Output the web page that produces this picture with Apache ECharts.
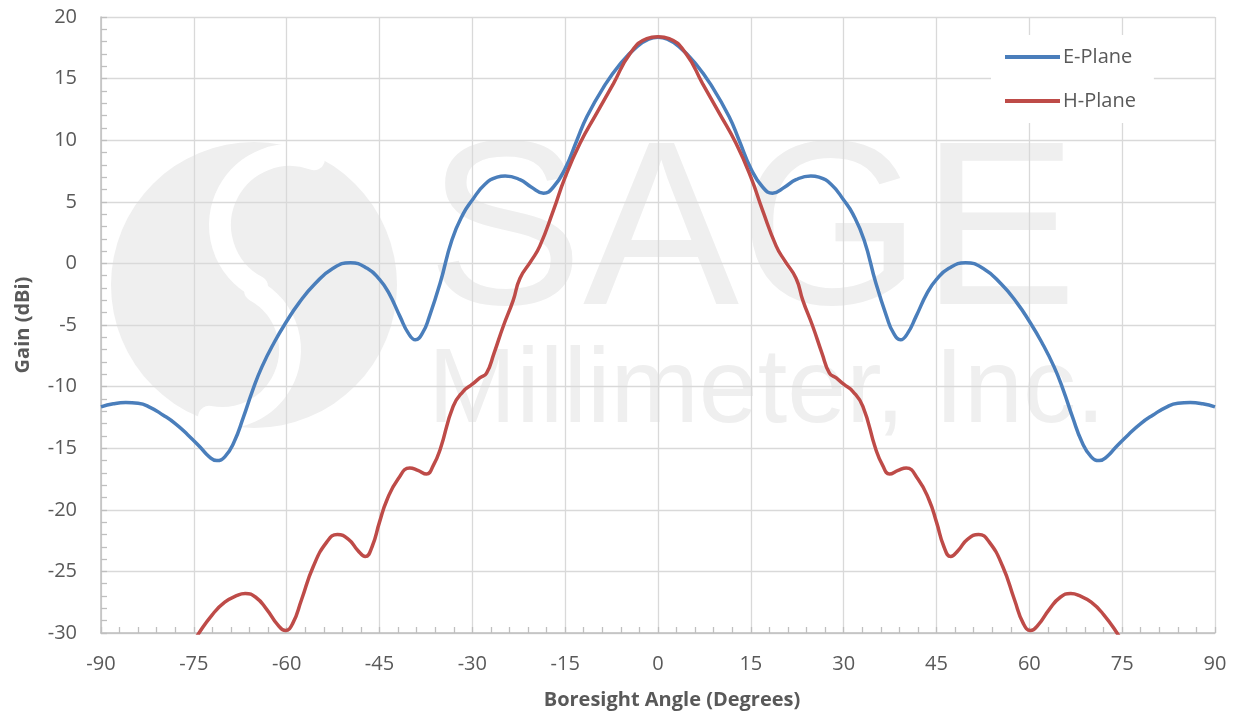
<!DOCTYPE html>
<html>
<head>
<meta charset="utf-8">
<script src="https://cdn.jsdelivr.net/npm/echarts@6/dist/echarts.min.js"></script>
<style>
html,body{margin:0;padding:0;background:#fff;}
#chart{width:1234px;height:717px;}
</style>
</head>
<body>
<div id="chart"></div>
<script>
// E-Plane
const eAngles = [-90,-88,-86,-84,-82,-80,-78,-76,-74,-72.5,-71.3,-70,-68.5,-67,-65.5,-64,-62,-60,-58,-55.5,-52.5,-49.7,-47,-45,-43.5,-41.7,-40.3,-39.2,-38,-37,-35.2,-33.3,-31.5,-30,-28,-26,-24.7,-22.3,-20.5,-18.5,-16.9,-15,-13.1,-11.5,-8.8,-6.1,-3.4,-1.5,0,
  1.5,3.4,6.1,8.8,11.5,13.1,15,16.9,18.5,20.5,22.3,24.7,26,28,30,31.5,33.3,35.2,37,38,39.2,40.3,41.7,43.5,45,47,49.7,52.5,55.5,58,60,62,64,65.5,67,68.5,70,71.3,72.5,74,76,78,80,82,84,86,88,90];
const eGain = [-11.65,-11.4,-11.3,-11.35,-11.7,-12.3,-13.0,-13.9,-14.9,-15.7,-16.0,-15.7,-14.5,-12.5,-10.3,-8.4,-6.4,-4.7,-3.2,-1.7,-0.4,0.05,-0.4,-1.3,-2.4,-4.3,-5.7,-6.2,-5.6,-4.4,-1.6,1.9,4.0,5.15,6.4,7.0,7.1,6.8,6.2,5.7,6.2,7.7,10.0,11.9,14.3,16.2,17.6,18.2,18.35,
  18.2,17.6,16.2,14.3,11.9,10.0,7.7,6.2,5.7,6.2,6.8,7.1,7.0,6.4,5.15,4.0,1.9,-1.6,-4.4,-5.6,-6.2,-5.7,-4.3,-2.4,-1.3,-0.4,0.05,-0.4,-1.7,-3.2,-4.7,-6.4,-8.4,-10.3,-12.5,-14.5,-15.7,-16.0,-15.7,-14.9,-13.9,-13.0,-12.3,-11.7,-11.35,-11.3,-11.4,-11.65];

// H-Plane
const hAngles = [-80,-77,-74.3,-72,-70,-68,-66.7,-65,-63.2,-61.5,-60.2,-59,-57.6,-55.7,-53.5,-51.8,-50,-48.5,-47.3,-46.2,-45,-43.8,-42,-40.1,-38.8,-37.4,-36.3,-35.2,-33.1,-31.5,-30,-28.8,-27.7,-26.5,-25,-23.4,-22.3,-20.5,-19.1,-16.9,-15,-12.6,-9.9,-7.2,-4.5,-1.8,0,
  1.8,4.5,7.2,9.9,12.6,15,16.9,19.1,20.5,22.3,23.4,25,26.5,27.7,28.8,30,31.5,33.1,35.2,36.3,37.4,38.8,40.1,42,43.8,45,46.2,47.3,48.5,50,51.8,53.5,55.7,57.6,59,60.2,61.5,63.2,65,66.7,68,70,72,74.3,77,80];
const hGain = [-34.5,-32.2,-30.1,-28.5,-27.5,-26.95,-26.8,-27.1,-28.1,-29.3,-29.8,-29.2,-27.3,-24.6,-22.6,-22.0,-22.4,-23.3,-23.8,-23.0,-21.0,-19.2,-17.5,-16.6,-16.8,-17.1,-16.4,-15.1,-11.6,-10.4,-9.8,-9.3,-8.9,-7.3,-5.1,-3.0,-1.2,0.2,1.4,4.3,7.0,9.75,12.2,14.6,17.05,18.25,18.4,
  18.25,17.05,14.6,12.2,9.75,7.0,4.3,1.4,0.2,-1.2,-3.0,-5.1,-7.3,-8.9,-9.3,-9.8,-10.4,-11.6,-15.1,-16.4,-17.1,-16.8,-16.6,-17.5,-19.2,-21.0,-23.0,-23.8,-23.3,-22.4,-22.0,-22.6,-24.6,-27.3,-29.2,-29.8,-29.3,-28.1,-27.1,-26.8,-26.95,-27.5,-28.5,-30.1,-32.2,-34.5];

const xTicks = [-90,-75,-60,-45,-30,-15,0,15,30,45,60,75,90];
const yTicks = [-30,-25,-20,-15,-10,-5,0,5,10,15,20];

const FONT = '"Open Sans", "Liberation Sans", sans-serif';
const toPairs = (xs, ys) => xs.map((x, i) => [x, ys[i]]);

const chart = echarts.init(document.getElementById('chart'), null, {renderer: 'canvas'});
const wm = '#efefef';
chart.setOption({
  animation: false,
  backgroundColor: '#ffffff',
  grid: {left: 101, right: 19, top: 17, bottom: 84, containLabel: false},
  graphic: [
    {type: 'circle', z: -10, shape: {cx: 254, cy: 285, r: 143}, style: {fill: wm}},
    {type: 'arc', z: -9, shape: {cx: 290, cy: 225, r: 70, startAngle: 118 * Math.PI / 180, endAngle: 290 * Math.PI / 180, clockwise: true},
      style: {stroke: '#ffffff', lineWidth: 22, fill: null, lineCap: 'round'}},
    {type: 'arc', z: -9, shape: {cx: 222, cy: 350, r: 68, startAngle: -61 * Math.PI / 180, endAngle: 101 * Math.PI / 180, clockwise: true},
      style: {stroke: '#ffffff', lineWidth: 22, fill: null, lineCap: 'round'}},
    {type: 'text', z: -10, left: 427, top: 122, style: {text: 'SAGE', fill: wm, font: '234px "Liberation Sans", Arial, sans-serif'}},
    {type: 'text', z: -10, left: 428, top: 340, style: {text: 'Millimeter, Inc.', fill: wm, font: '106px "Liberation Sans", Arial, sans-serif'}}
  ],
  legend: {
    orient: 'vertical',
    left: 991, top: 35,
    padding: [12, 18, 12, 14],
    backgroundColor: '#ffffff',
    itemWidth: 55, itemHeight: 20, itemGap: 24,
    textStyle: {fontFamily: FONT, fontSize: 20, color: '#595959', padding: [0, 0, 0, -2]},
    data: [
      {name: 'E-Plane', icon: 'path://M0,8 L55,8 L55,12 L0,12 Z', itemStyle: {color: '#4a7ebb'}},
      {name: 'H-Plane', icon: 'path://M0,8 L55,8 L55,12 L0,12 Z', itemStyle: {color: '#be4b48'}}
    ]
  },
  xAxis: {
    type: 'value', min: xTicks[0], max: xTicks[xTicks.length - 1], interval: 15,
    name: 'Boresight Angle (Degrees)', nameLocation: 'middle', nameGap: 57,
    nameTextStyle: {fontFamily: FONT, fontSize: 20, fontWeight: 'bold', color: '#595959', padding: [0, 0, 0, 28]},
    axisLine: {show: true, onZero: false, lineStyle: {color: '#bfbfbf', width: 1.5}},
    axisTick: {show: true, inside: true, length: 6, lineStyle: {color: '#bfbfbf', width: 1.3}},
    minorTick: {show: true, splitNumber: 5, length: 6, lineStyle: {color: '#bfbfbf', width: 1.3}},
    splitLine: {show: true, lineStyle: {color: '#d9d9d9', width: 1.3}},
    axisLabel: {fontFamily: FONT, fontSize: 20, color: '#595959', margin: 21}
  },
  yAxis: {
    type: 'value', min: yTicks[0], max: yTicks[yTicks.length - 1], interval: 5,
    name: 'Gain (dBi)', nameLocation: 'middle', nameGap: 68, nameRotate: 90,
    nameTextStyle: {fontFamily: FONT, fontSize: 20, fontWeight: 'bold', color: '#595959'},
    axisLine: {show: true, onZero: false, lineStyle: {color: '#bfbfbf', width: 1.5}},
    axisTick: {show: true, inside: true, length: 6, lineStyle: {color: '#bfbfbf', width: 1.3}},
    minorTick: {show: true, splitNumber: 5, length: 6, lineStyle: {color: '#bfbfbf', width: 1.3}},
    splitLine: {show: true, lineStyle: {color: '#d9d9d9', width: 1.3}},
    axisLabel: {fontFamily: FONT, fontSize: 20, color: '#595959', margin: 24}
  },
  series: [
    {name: 'E-Plane', type: 'line', data: toPairs(eAngles, eGain), smooth: 0.5, symbol: 'none', clip: true,
      lineStyle: {color: '#4a7ebb', width: 3.5}, itemStyle: {color: '#4a7ebb'}},
    {name: 'H-Plane', type: 'line', data: toPairs(hAngles, hGain), smooth: 0.5, symbol: 'none', clip: true,
      lineStyle: {color: '#be4b48', width: 3.5}, itemStyle: {color: '#be4b48'}}
  ]
});
</script>
</body>
</html>
